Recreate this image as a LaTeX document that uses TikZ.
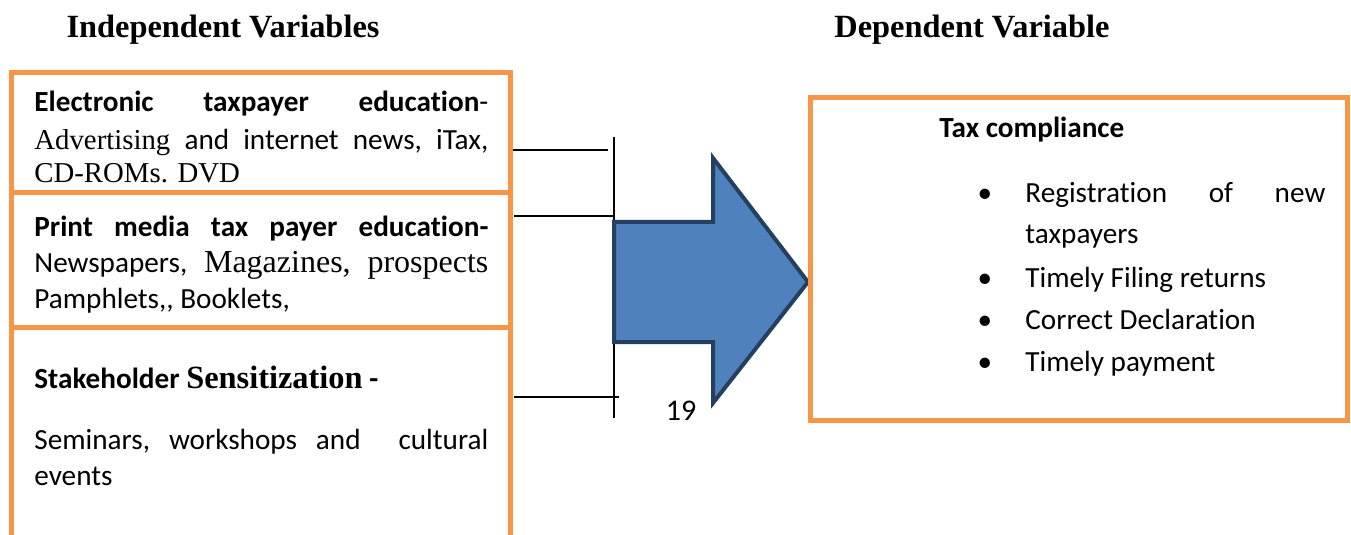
\documentclass[tikz,border=0pt]{standalone}
\usepackage{fontspec}
\setmainfont{Carlito}[Ligatures=NoCommon]
\newfontfamily\tnr{Liberation Serif}
\definecolor{boxorange}{HTML}{F79646}
\definecolor{arrowfill}{HTML}{4F81BD}
\definecolor{arrowline}{HTML}{243F60}
\begin{document}
\begin{tikzpicture}[x=0.5pt,y=-0.5pt,
  obox/.style={draw=boxorange,line width=2.5pt,inner sep=0pt,outer sep=0pt,anchor=north west},
  txt/.style={anchor=base west,inner sep=0pt,font=\fontsize{14.6}{17}\selectfont},
  head/.style={anchor=base,inner sep=0pt,font=\tnr\bfseries\fontsize{16.2}{19}\selectfont},
  conn/.style={draw=black,line width=0.75pt},
  bul/.style={anchor=base,inner sep=0pt,font=\fontsize{14.6}{17}\selectfont}
]
\useasboundingbox (0,0) rectangle (1351,535);

% headers
\node[head] (hind) at (223,38) {Independent Variables};
\node[head] (hdep) at (972,38) {Dependent Variable};

% left boxes
\node[obox,minimum width=249.5pt,minimum height=60pt] (b1) at (11,73) {};
\node[obox,minimum width=249.5pt,minimum height=67pt] (b2) at (11,193) {};
\draw[draw=boxorange,line width=2.5pt] (11,545) -- (11,327) -- (510,327) -- (510,545);
\coordinate (b3e) at (510,397);

% box 1 text
\node[txt] (t11) at (34,112) {\makebox[227pt][l]{\textbf{Electronic}\hfill\textbf{taxpayer}\hfill\textbf{education}-}};
\node[txt] (t12) at (34,150) {\makebox[227pt][l]{{\tnr\fontsize{14.4}{17}\selectfont Advertising}\hfill and\hfill internet\hfill news,\hfill iTax,}};
\node[txt] (t13) at (34,183) {{\tnr\fontsize{14.4}{17}\selectfont CD-ROMs. DVD}};

% box 2 text
\node[txt] (t21) at (34,236) {\makebox[227pt][l]{\textbf{Print}\hfill\textbf{media}\hfill\textbf{tax}\hfill\textbf{payer}\hfill\textbf{education-}}};
\node[txt] (t22) at (34,272) {\makebox[227pt][l]{Newspapers,\hfill{\tnr\fontsize{16}{18}\selectfont Magazines,}\hfill{\tnr\fontsize{16}{18}\selectfont prospects}}};
\node[txt] (t23) at (34,308) {Pamphlets,\kern0pt, Booklets,};

% box 3 text
\node[txt] (t31) at (34,388) {\textbf{Stakeholder} {\tnr\bfseries\fontsize{16.2}{18}\selectfont Sensitization} \textbf{-}};
\node[txt] (t32) at (34,449) {\makebox[227pt][l]{Seminars,\hfill workshops\hfill and\hfill\hfill cultural}};
\node[txt] (t33) at (34,485) {events};

% connectors
\coordinate (vt) at (614,137);
\coordinate (vb) at (614,418);
\coordinate (c1) at (608,150);
\coordinate (c2) at (614,216);
\coordinate (c3) at (619,397);
\draw[conn] (vt) -- (vb);
\draw[conn] (b1.east |- c1) ++(2.5,0) -- (c1);
\draw[conn] (b2.east |- c2) ++(4,0) -- (c2);
\draw[conn] (b3e) ++(4,0) -- (c3);

% big arrow
\coordinate (a1) at (614,222);
\coordinate (a2) at (713,222);
\coordinate (a3) at (713,158);
\coordinate (a4) at (808,282);
\coordinate (a5) at (713,403);
\coordinate (a6) at (713,342);
\coordinate (a7) at (614,342);
\draw[fill=arrowfill,draw=arrowline,line width=2pt,line join=miter] (a1) -- (a2) -- (a3) -- (a4) -- (a5) -- (a6) -- (a7) -- cycle;

\node[anchor=base,inner sep=0pt,font=\fontsize{15}{17}\selectfont] (n19) at (681,420) {19};

% right box
\node[obox,minimum width=268.5pt,minimum height=161pt] (rb) at (810,98) {};
\node[txt] (rt) at (939,138) {\textbf{Tax compliance}};
\node[bul] (bu1) at (985,203) {\textbullet};
\node[bul] (bu2) at (985,287) {\textbullet};
\node[bul] (bu3) at (985,329) {\textbullet};
\node[bul] (bu4) at (985,371) {\textbullet};
\node[txt] (r1) at (1025,203) {\makebox[150pt][l]{Registration\hfill of\hfill new}};
\node[txt] (r1b) at (1025,243) {taxpayers};
\node[txt] (r2) at (1025,287) {Timely Filing returns};
\node[txt] (r3) at (1025,329) {Correct Declaration};
\node[txt] (r4) at (1025,371) {Timely payment};
\end{tikzpicture}
\end{document}
